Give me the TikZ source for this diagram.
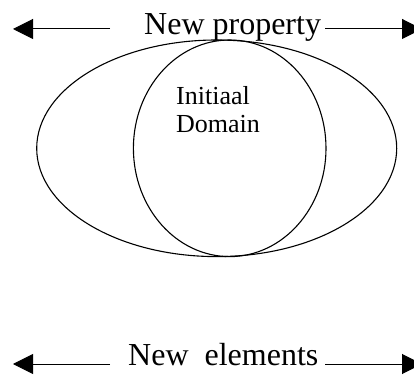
\documentclass[tikz,border=0pt]{standalone}
\usepackage{fontspec}
\setmainfont{Liberation Serif}
\usetikzlibrary{arrows.meta,shapes.geometric}
\begin{document}
\begin{tikzpicture}[x=1pt,y=1pt,
  region/.style={draw, ellipse, line width=1.1pt, inner sep=0pt},
  heading/.style={font=\fontsize{32}{38}\selectfont, inner sep=0pt, anchor=base west},
  spread/.style={line width=1pt, -{Triangle[length=20pt,width=20pt]}}]
\useasboundingbox (0,0) rectangle (414,374);
\clip (0,0) rectangle (414,374);

% domains
\node[region, minimum width=360pt, minimum height=216.6pt] (outer) at (216.7,225.7) {};
\node[region, minimum width=192.6pt, minimum height=216.6pt] (inner) at (229.7,225.7) {};
\node[font=\fontsize{26}{28}\selectfont, align=left, inner sep=0pt, anchor=base west]
  (init) at (176,241) {Initiaal\\Domain};

% top extension
\node[heading] (prop) at (144,339) {New property};
\coordinate (pa) at (110,345);
\coordinate (pb) at (13,345);
\coordinate (pc) at (325,345);
\coordinate (pd) at (422,345);
\draw[spread] (pa) -- (pb);
\draw[spread] (pc) -- (pd);

% bottom extension
\node[heading] (elem) at (128,9) {New\ \ elements};
\coordinate (ea) at (110,10);
\coordinate (eb) at (13,10);
\coordinate (ec) at (325,10);
\coordinate (ed) at (422,10);
\draw[spread] (ea) -- (eb);
\draw[spread] (ec) -- (ed);
\end{tikzpicture}
\end{document}
